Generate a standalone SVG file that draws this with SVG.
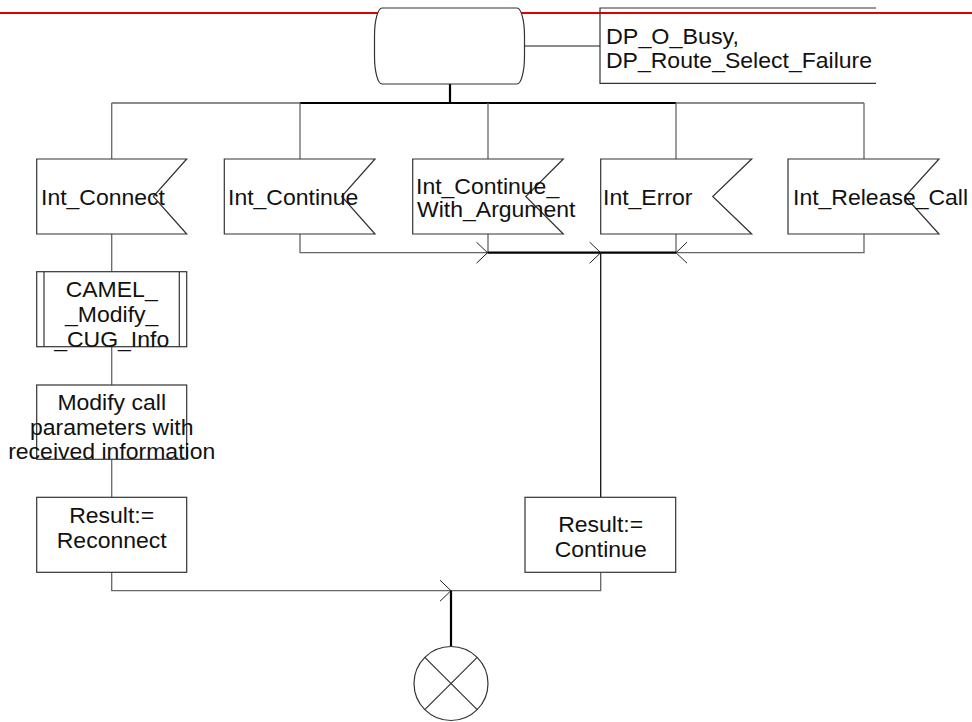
<svg xmlns="http://www.w3.org/2000/svg" xmlns:xlink="http://www.w3.org/1999/xlink" width="972" height="722" viewBox="0 0 972 722">
  <style>
    .shape { fill: #fff; stroke: #333; stroke-width: 1.2; }
    .open { fill: none; stroke: #333; stroke-width: 1.2; }
    .wire { fill: none; stroke: #666; stroke-width: 1.3; }
    .bold { fill: none; stroke: #000; stroke-width: 2.2; }
    .thin { fill: none; stroke: #111; stroke-width: 1.3; }
    .head { fill: none; stroke: #222; stroke-width: 1; }
    text { font-family: "Liberation Sans", Arial, sans-serif; font-size: 21.5px; fill: #111; }
    .mid { text-anchor: middle; }
  </style>
  <defs>
    <!-- open arrowhead pointing right, tip at origin -->
    <path id="arrow" d="M-11,-10.5 L0,0 L-11,10.5"/>
  </defs>

  <!-- page rule -->
  <line x1="0" y1="13" x2="972" y2="13" stroke="#e00000" stroke-width="2"/>

  <g id="connectors">
    <line class="wire" x1="524" y1="46" x2="600" y2="46"/>
    <line class="bold" x1="450" y1="84" x2="450" y2="103"/>
    <line class="wire" x1="111.7" y1="103" x2="300" y2="103"/>
    <line class="bold" x1="300" y1="103" x2="676" y2="103"/>
    <line class="wire" x1="676" y1="103" x2="864" y2="103"/>
    <line class="wire" x1="111.7" y1="103" x2="111.7" y2="159"/>
    <line class="wire" x1="300" y1="103" x2="300" y2="159"/>
    <line class="wire" x1="488" y1="103" x2="488" y2="159"/>
    <line class="wire" x1="676" y1="103" x2="676" y2="159"/>
    <line class="wire" x1="864" y1="103" x2="864" y2="159"/>

    <polyline class="wire" points="300,234 300,252.7 487.5,252.7"/>
    <line class="wire" x1="488" y1="234" x2="488" y2="252.7"/>
    <line class="wire" x1="676" y1="234" x2="676" y2="252.7"/>
    <polyline class="wire" points="864,234 864,252.7 676,252.7"/>
    <line class="bold" x1="487.5" y1="252.7" x2="676" y2="252.7"/>
    <use xlink:href="#arrow" class="head" transform="translate(487.5,252.7)"/>
    <use xlink:href="#arrow" class="head" transform="translate(600.7,252.7)"/>
    <use xlink:href="#arrow" class="head" transform="translate(676,252.7) scale(-1,1)"/>
    <line class="thin" x1="600.7" y1="252.7" x2="600.7" y2="497.3"/>

    <line class="wire" x1="111.7" y1="234" x2="111.7" y2="271.7"/>
    <line class="wire" x1="111.7" y1="346.7" x2="111.7" y2="385"/>
    <line class="wire" x1="111.7" y1="459.3" x2="111.7" y2="497.3"/>

    <polyline class="wire" points="111.7,572.3 111.7,590.7 600.7,590.7 600.7,572.3"/>
    <use xlink:href="#arrow" class="head" transform="translate(451,590.7)"/>
    <line class="bold" x1="451" y1="590.7" x2="451" y2="646.5"/>
  </g>

  <g id="state">
    <path class="shape" d="M382,8 H517 A7.5,28 0 0 1 524.5,36 V56 A7.5,28 0 0 1 517,84 H382 A7.5,28 0 0 1 374.5,56 V36 A7.5,28 0 0 1 382,8 Z"/>
  </g>

  <g id="dp-note">
    <path class="open" d="M876,8 H600 V83.3 H876"/>
    <text x="606" y="44" textLength="133" lengthAdjust="spacingAndGlyphs">DP_O_Busy,</text>
    <text x="606" y="68" textLength="266" lengthAdjust="spacingAndGlyphs">DP_Route_Select_Failure</text>
  </g>

  <g id="int-connect">
    <polygon class="shape" points="36.7,159 186.7,159 153.3,196.5 186.7,234 36.7,234"/>
    <text x="41" y="205" textLength="124" lengthAdjust="spacingAndGlyphs">Int_Connect</text>
  </g>

  <g id="int-continue">
    <polygon class="shape" points="224.3,159 375,159 341.7,196.5 375,234 224.3,234"/>
    <text x="228" y="205" textLength="130.4" lengthAdjust="spacingAndGlyphs">Int_Continue</text>
  </g>

  <g id="int-continue-with-argument">
    <polygon class="shape" points="412.7,159 563.3,159 525.7,196.5 563.3,234 412.7,234"/>
    <text x="416" y="194" textLength="143.2" lengthAdjust="spacingAndGlyphs">Int_Continue_</text>
    <text x="417" y="217" textLength="158.5" lengthAdjust="spacingAndGlyphs">With_Argument</text>
  </g>

  <g id="int-error">
    <polygon class="shape" points="600.7,159 751.7,159 712.7,196.5 751.7,234 600.7,234"/>
    <text x="603" y="205" textLength="89.5" lengthAdjust="spacingAndGlyphs">Int_Error</text>
  </g>

  <g id="int-release-call">
    <polygon class="shape" points="788,159 939,159 905,196.5 939,234 788,234"/>
    <text x="793" y="205" textLength="175.1" lengthAdjust="spacingAndGlyphs">Int_Release_Call</text>
  </g>

  <g id="camel-modify-cug-info">
    <rect class="shape" x="36.7" y="271.7" width="150" height="75"/>
    <line class="open" x1="44" y1="271.7" x2="44" y2="346.7"/>
    <line class="open" x1="179.3" y1="271.7" x2="179.3" y2="346.7"/>
    <text class="mid" x="111.7" y="297" textLength="92" lengthAdjust="spacingAndGlyphs">CAMEL_</text>
    <text class="mid" x="111.7" y="322" textLength="93.3" lengthAdjust="spacingAndGlyphs">_Modify_</text>
    <text class="mid" x="111.7" y="347" textLength="115" lengthAdjust="spacingAndGlyphs">_CUG_Info</text>
  </g>

  <g id="modify-call-parameters">
    <rect class="shape" x="36.7" y="385" width="150" height="74.3"/>
    <text class="mid" x="111.7" y="410" textLength="108.6" lengthAdjust="spacingAndGlyphs">Modify call</text>
    <text class="mid" x="111.7" y="435" textLength="163.6" lengthAdjust="spacingAndGlyphs">parameters with</text>
    <text class="mid" x="111.7" y="459" textLength="207.1" lengthAdjust="spacingAndGlyphs">received information</text>
  </g>

  <g id="result-reconnect">
    <rect class="shape" x="36.7" y="497.3" width="150" height="75"/>
    <text class="mid" x="111.7" y="523" textLength="85" lengthAdjust="spacingAndGlyphs">Result:=</text>
    <text class="mid" x="111.7" y="548" textLength="109.9" lengthAdjust="spacingAndGlyphs">Reconnect</text>
  </g>

  <g id="result-continue">
    <rect class="shape" x="525" y="497.3" width="150.7" height="75"/>
    <text class="mid" x="600.7" y="532" textLength="85" lengthAdjust="spacingAndGlyphs">Result:=</text>
    <text class="mid" x="600.7" y="557" textLength="92" lengthAdjust="spacingAndGlyphs">Continue</text>
  </g>

  <g id="connector-out">
    <circle class="shape" cx="451" cy="683.5" r="37"/>
    <line class="open" x1="424.8" y1="657.3" x2="477.2" y2="709.7"/>
    <line class="open" x1="477.2" y1="657.3" x2="424.8" y2="709.7"/>
  </g>
</svg>
